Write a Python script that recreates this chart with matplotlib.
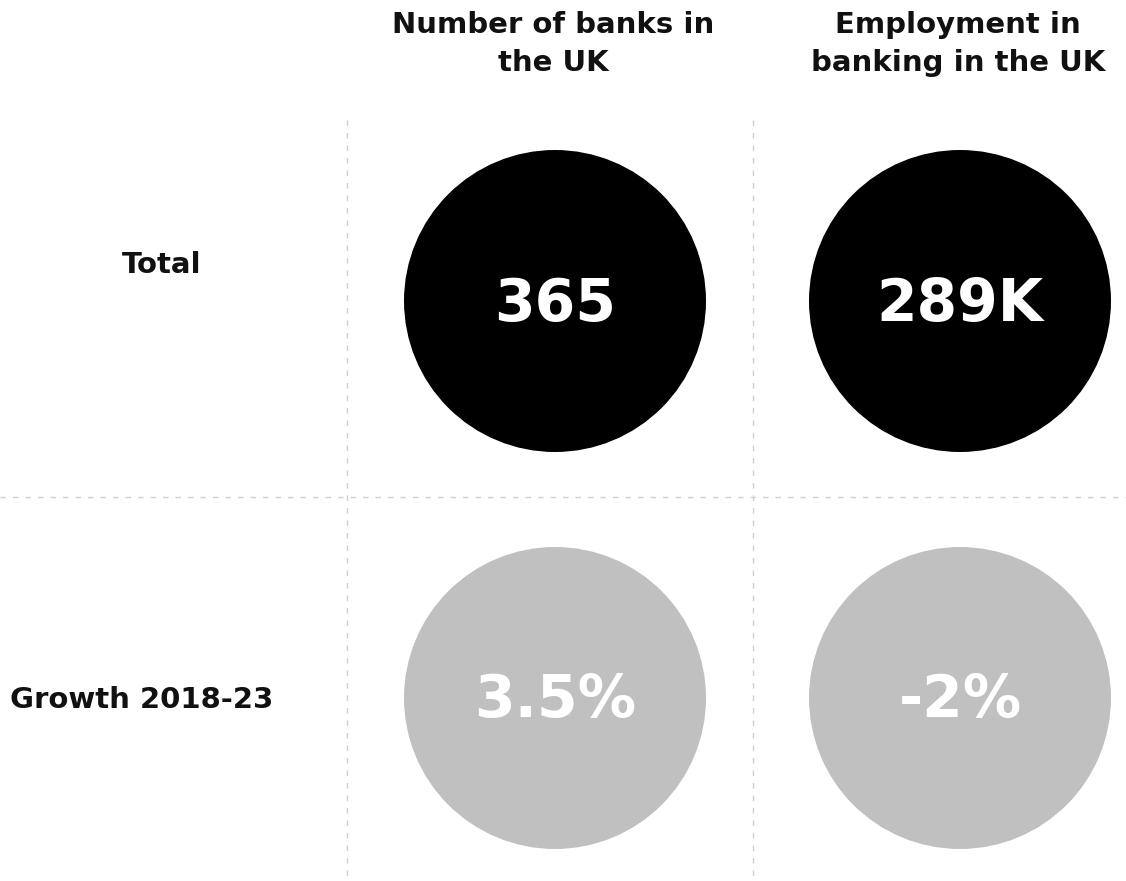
import matplotlib.pyplot as plt
from matplotlib.patches import Circle

# table contents
columns = ["Number of banks in\nthe UK", "Employment in\nbanking in the UK"]
rows = ["Total", "Growth 2018-23"]
values = [["365", "289K"], ["3.5%", "-2%"]]
row_colors = ["#000000", "#c0c0c0"]

W, H = 1126, 881
fig = plt.figure(figsize=(W / 100, H / 100), dpi=100)
ax = fig.add_axes([0, 0, 1, 1])
ax.set_xlim(0, W)
ax.set_ylim(H, 0)
ax.axis("off")

plt.rcParams["font.family"] = ["DejaVu Sans"]

# grid layout (pixels)
label_pos = [(162, 265), (142, 700)]
col_x = [555, 960]
row_y = [301, 698]
radius = 151
sep_x = [347, 753]
sep_y = 497
grid_color = "#d0d0d0"

for x in sep_x:
    ax.plot([x, x], [120, H], color=grid_color, lw=1, ls=(0, (4, 5)))
ax.plot([0, W], [sep_y, sep_y], color=grid_color, lw=1, ls=(0, (4, 5)))

for j, name in enumerate(columns):
    ax.text(col_x[j] - 2, 44, name, ha="center", va="center", fontsize=21,
            fontweight="bold", linespacing=1.45, color="#111111")

for i, name in enumerate(rows):
    ax.text(label_pos[i][0], label_pos[i][1], name, ha="center", va="center",
            fontsize=21, fontweight="bold", color="#111111")
    for j in range(len(columns)):
        ax.add_patch(Circle((col_x[j], row_y[i]), radius, color=row_colors[i], lw=0))
        ax.text(col_x[j], row_y[i] + 3, values[i][j], ha="center", va="center",
                fontsize=42, fontweight="bold", color="white")

fig.savefig("out.png", dpi=100)
